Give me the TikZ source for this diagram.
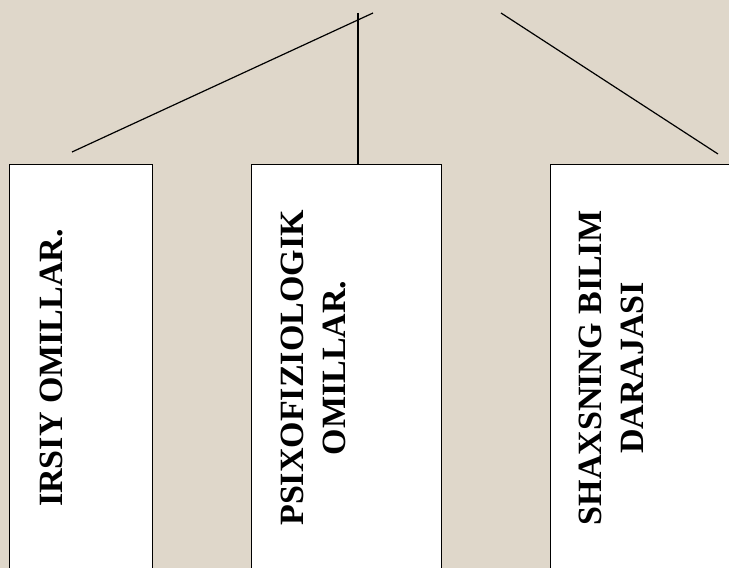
\documentclass[tikz,border=0pt]{standalone}
\usepackage{fontspec}
\setmainfont{Liberation Serif}
\definecolor{paper}{RGB}{223,215,202}
\tikzset{
  factorbox/.style={draw, line width=1.4pt, fill=white, anchor=north west, minimum height=414pt, inner sep=0pt},
  factortext/.style={rotate=90, inner sep=0pt, align=center, font=\fontsize{34}{42}\selectfont\bfseries},
  branch/.style={line width=1.2pt}
}
\begin{document}
\begin{tikzpicture}[x=1pt,y=1pt]
        \useasboundingbox (0,0) rectangle (729,568);
        \clip (0,0) rectangle (729,568);
        \fill[paper] (0,0) rectangle (729,568);

        % Draw the three factor boxes
        \node[factorbox, minimum width=143pt] (irsiy) at (9,404) {};
        \node[factorbox, minimum width=190pt] (psixo) at (251,404) {};
        \node[factorbox, minimum width=190pt] (bilim) at (550,404) {};

        % Rotated labels inside the boxes
        \node[factortext] (irsiyT) at (51,200) {IRSIY OMILLAR.};
        \node[factortext] (psixoT) at (313.5,200) {PSIXOFIZIOLOGIK\\OMILLAR.};
        \node[factortext] (bilimT) at (611.5,200) {SHAXSNING BILIM\\DARAJASI};

        % Branch lines at the top
        \coordinate (apexL) at (373,555);
        \coordinate (footL) at (72,416);
        \coordinate (stem) at (358,555);
        \coordinate (apexR) at (501,555);
        \coordinate (footR) at (718,414);
        \draw[branch] (apexL) -- (footL);
        \draw[branch] (stem) -- (stem |- psixo.north);
        \draw[branch] (apexR) -- (footR);
    \end{tikzpicture}
\end{document}
